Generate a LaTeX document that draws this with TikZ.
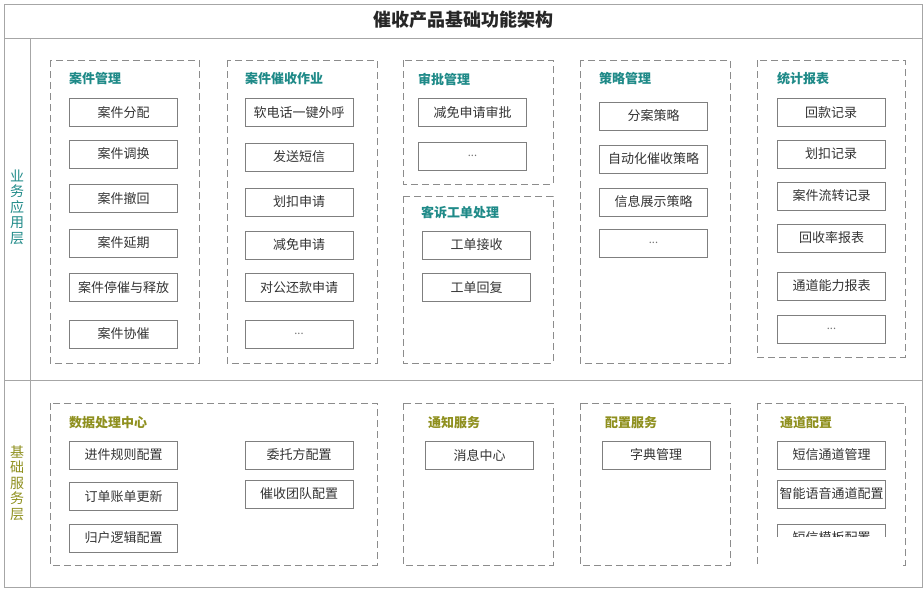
\documentclass[tikz,border=0pt]{standalone}
\usepackage{fontspec}
\setmainfont{Noto Sans CJK SC}
\definecolor{framegray}{HTML}{A6A6A6}
\definecolor{dashgray}{HTML}{8C8C8C}
\definecolor{boxgray}{HTML}{7F7F7F}
\definecolor{apptitle}{HTML}{1F8A88}
\definecolor{basetitle}{HTML}{8F901F}
\tikzset{
  frame/.style={draw=framegray, line width=0.9pt},
  grp/.style={draw=dashgray, dash pattern=on 7pt off 4pt, line width=0.8pt},
  item/.style={draw=boxgray, line width=0.8pt, minimum width=108pt, minimum height=28pt,
    inner sep=0pt, text=black!80, font=\fontsize{13}{13}\selectfont},
  apphead/.style={anchor=west, inner sep=0pt, text=apptitle, font=\fontsize{13}{13}\selectfont\bfseries},
  basehead/.style={anchor=west, inner sep=0pt, text=basetitle, font=\fontsize{13}{13}\selectfont\bfseries},
  layer/.style={align=center, inner sep=0pt, font=\fontsize{14}{15.5}\selectfont},
}
\newcommand{\moreitems}{\textcolor{black!55}{\fontsize{11}{11}\selectfont ...}}
\begin{document}
\begin{tikzpicture}[x=1pt,y=-1pt]
  \useasboundingbox (0,0) rectangle (924,589);
  % outer frame and layers
  \draw[frame] (4,4) rectangle (922,587);
  \draw[frame] (4,38) -- (922,38);
  \draw[frame] (30,38) -- (30,587);
  \draw[frame] (4,380) -- (922,380);
  \node(title)[font=\fontsize{18}{18}\selectfont\bfseries, text=black!85] at (463,20) {催收产品基础功能架构};
  \node(app)[layer, text=apptitle] at (17,207) {业\\务\\应\\用\\层};
  \node(base)[layer, text=basetitle] at (17,483) {基\\础\\服\\务\\层};

  % business application layer
  \draw[grp] (50,60) rectangle (199,363);
  \node(case)[apphead] at (69,79) {案件管理};
  \node(c1)[item] at (123.5,112.5) {案件分配};
  \node(c2)[item] at (123.5,154) {案件调换};
  \node(c3)[item] at (123.5,198.5) {案件撤回};
  \node(c4)[item] at (123.5,243) {案件延期};
  \node(c5)[item] at (123.5,287.5) {案件停催与释放};
  \node(c6)[item] at (123.5,334) {案件协催};

  \draw[grp] (227,60) rectangle (377,363);
  \node(coll)[apphead] at (245,79) {案件催收作业};
  \node(w1)[item] at (299,112.5) {软电话一键外呼};
  \node(w2)[item] at (299,157) {发送短信};
  \node(w3)[item] at (299,202) {划扣申请};
  \node(w4)[item] at (299,245) {减免申请};
  \node(w5)[item] at (299,287.5) {对公还款申请};
  \node(w6)[item] at (299,334) {\moreitems};

  \draw[grp] (403,60) rectangle (553,184);
  \node(appr)[apphead] at (418,79) {审批管理};
  \node(a1)[item] at (472.5,112.5) {减免申请审批};
  \node(a2)[item] at (472.5,156) {\moreitems};

  \draw[grp] (403,196) rectangle (553,363);
  \node(cmpl)[apphead] at (421,213) {客诉工单处理};
  \node(k1)[item] at (476.5,245) {工单接收};
  \node(k2)[item] at (476.5,287.5) {工单回复};

  \draw[grp] (580,60) rectangle (730,363);
  \node(strat)[apphead] at (599,79) {策略管理};
  \node(s1)[item] at (653.5,116) {分案策略};
  \node(s2)[item] at (653.5,159) {自动化催收策略};
  \node(s3)[item] at (653.5,202) {信息展示策略};
  \node(s4)[item] at (653.5,243) {\moreitems};

  \draw[grp] (757,60) rectangle (905,357);
  \node(stat)[apphead] at (777,79) {统计报表};
  \node(r1)[item] at (831,112.5) {回款记录};
  \node(r2)[item] at (831,154) {划扣记录};
  \node(r3)[item] at (831.5,196) {案件流转记录};
  \node(r4)[item] at (831.5,238) {回收率报表};
  \node(r5)[item] at (831.5,286) {通道能力报表};
  \node(r6)[item] at (831.5,329) {\moreitems};

  % basic service layer
  \draw[grp] (50,403) rectangle (377,565);
  \node(data)[basehead] at (69,423) {数据处理中心};
  \node(d1)[item] at (123.5,455) {进件规则配置};
  \node(d2)[item] at (123.5,496.5) {订单账单更新};
  \node(d3)[item] at (123.5,538) {归户逻辑配置};
  \node(d4)[item] at (299,455) {委托方配置};
  \node(d5)[item] at (299,494) {催收团队配置};

  \draw[grp] (403,403) rectangle (553,565);
  \node(notif)[basehead] at (428,423) {通知服务};
  \node(n1)[item] at (479.5,455) {消息中心};

  \draw[grp] (580,403) rectangle (730,565);
  \node(conf)[basehead] at (605,423) {配置服务};
  \node(f1)[item] at (656,455) {字典管理};

  \draw[grp] (757,403) rectangle (905,565);
  \node(chan)[basehead] at (780,423) {通道配置};
  \node(h1)[item] at (831.5,455) {短信通道管理};
  \node(h2)[item] at (831.5,494) {智能语音通道配置};
  \node(h3)[item] at (831.5,538) {短信模板配置};
  \fill[white] (759,537) rectangle (903,569);
\end{tikzpicture}
\end{document}
